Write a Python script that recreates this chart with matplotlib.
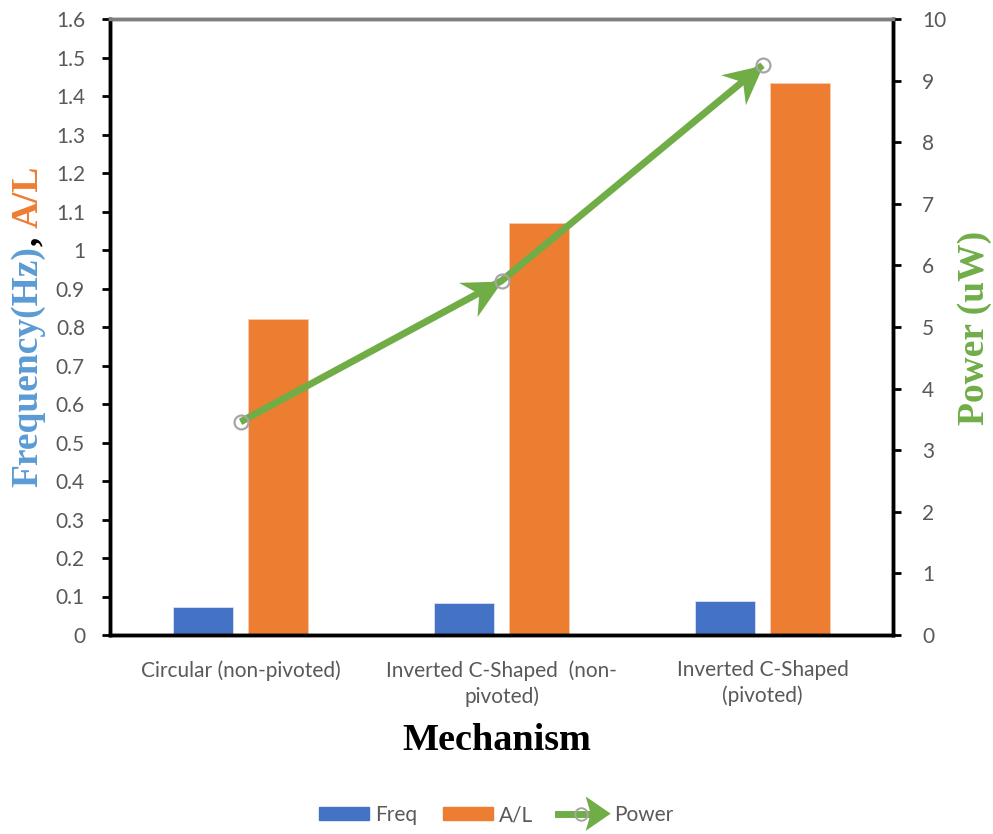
import numpy as np
import matplotlib
matplotlib.use("Agg")
import matplotlib.pyplot as plt
from matplotlib.markers import MarkerStyle
from matplotlib.path import Path
from matplotlib.transforms import Affine2D
from matplotlib.lines import Line2D
from matplotlib.patches import Patch, Polygon
from matplotlib.legend_handler import HandlerBase

# ---- data ----
categories = ["Circular (non-pivoted)",
              "Inverted C-Shaped  (non-\npivoted)",
              "Inverted C-Shaped\n(pivoted)"]
freq = [0.073, 0.083, 0.088]
a_over_l = [0.821, 1.07, 1.434]
power = [3.46, 5.75, 9.25]
left_ticks = [0, 0.1, 0.2, 0.3, 0.4, 0.5, 0.6, 0.7, 0.8, 0.9, 1.0,
              1.1, 1.2, 1.3, 1.4, 1.5, 1.6]
right_ticks = [0, 1, 2, 3, 4, 5, 6, 7, 8, 9, 10]

BLUE = "#4472C4"
ORANGE = "#ED7D31"
GREEN = "#70AD47"
LIGHTBLUE = "#5B9BD5"
TICKGRAY = "#595959"
MARKGRAY = "#A5A5A5"

SANS = ["Lato", "DejaVu Sans"]
SERIF = ["Liberation Serif", "DejaVu Serif"]
TICK_FS = 15

fig = plt.figure(figsize=(9.93, 8.34), dpi=100)
ax = fig.add_axes([110 / 993, 1 - 635 / 834, 783 / 993, 616 / 834])
ax2 = ax.twinx()

x = np.arange(len(categories))
bw = 0.23
off = 0.145
ax.bar(x - off, freq, bw, color=BLUE, edgecolor="#D9E2F3", linewidth=0.6, zorder=2)
ax.bar(x + off, a_over_l, bw, color=ORANGE, edgecolor="#F8CBAD", linewidth=0.6, zorder=2)

ax.set_xlim(-0.5, len(categories) - 0.5)
ax.set_ylim(0, 1.6)
ax2.set_ylim(0, 10)

ax.set_yticks(left_ticks)
ax.set_yticklabels([f"{v:g}" for v in left_ticks])
ax2.set_yticks(right_ticks)
ax2.set_yticklabels([str(v) for v in right_ticks])
ax.set_xticks(x)
ax.set_xticklabels(categories, fontsize=TICK_FS, color=TICKGRAY, family=SANS,
                   linespacing=1.35, va="top")
ax.tick_params(axis="x", length=0, pad=18)
ax.tick_params(axis="y", direction="out", length=6, width=2, color="black",
               labelsize=TICK_FS, labelcolor=TICKGRAY, pad=12)
ax2.tick_params(axis="y", direction="out", length=6, width=2, color="black",
                labelsize=TICK_FS, labelcolor=TICKGRAY, pad=15)
for lab in ax.get_yticklabels() + ax2.get_yticklabels():
    lab.set_family(SANS)

for a in (ax, ax2):
    for side in ("left", "right", "bottom", "top"):
        a.spines[side].set_linewidth(2.5)
        a.spines[side].set_color("black")
    a.spines["top"].set_color("#7F7F7F")

# power line with arrowheads at the end of each segment
ax2.plot(x, power, color=GREEN, lw=5, solid_capstyle="butt", zorder=3)

stealth = Path([(0, 0), (-1, 0.5), (-0.68, 0), (-1, -0.5), (0, 0)],
               [Path.MOVETO, Path.LINETO, Path.LINETO, Path.LINETO, Path.CLOSEPOLY])
disp = ax2.transData.transform(np.column_stack([x, power]))
for i in range(1, len(x)):
    dx, dy = disp[i] - disp[i - 1]
    ang = np.degrees(np.arctan2(dy, dx))
    ms = MarkerStyle(stealth, transform=Affine2D().rotate_deg(ang))
    ax2.plot([x[i]], [power[i]], marker=ms, markersize=56, color=GREEN,
             markeredgewidth=0, linestyle="none", zorder=4)
ax2.plot(x, power, linestyle="none", marker="o", markersize=10,
         markerfacecolor="none", markeredgecolor=MARKGRAY, markeredgewidth=1.6,
         zorder=5)

# axis titles
fig.text(0.5, 1 - 741 / 834, "Mechanism", ha="center", va="center",
         family=SERIF, fontweight="bold", fontsize=27.5)
fig.text(975 / 993, 1 - 328 / 834, "Power (uW)", rotation=90, ha="center",
         va="center", family=SERIF, fontweight="bold", fontsize=27, color=GREEN)

renderer = fig.canvas.get_renderer()
ylab_x = 28 / 993
y0 = 1 - 487 / 834
pieces = [("Frequency(Hz)", LIGHTBLUE, 0), (",", "black", 9), ("A/L", ORANGE, 0)]
cur = y0
fig_h = fig.get_figheight() * fig.dpi
for txt, col, gap in pieces:
    t = fig.text(ylab_x, cur, txt, rotation=90, rotation_mode="anchor",
                 ha="left", va="center", family=SERIF, fontweight="bold",
                 fontsize=27, color=col)
    bb = t.get_window_extent(renderer)
    cur += (bb.height + gap) / fig_h

# legend
class PowerHandler(HandlerBase):
    def create_artists(self, legend, orig_handle, xdescent, ydescent, width,
                       height, fontsize, trans):
        y = height / 2 - ydescent
        x0 = -xdescent
        line = Line2D([x0, x0 + width * 0.7], [y, y], color=GREEN, lw=5,
                      transform=trans)
        head = Polygon([[x0 + width * 0.55, y + height * 1.3],
                        [x0 + width * 1.05, y],
                        [x0 + width * 0.55, y - height * 1.3],
                        [x0 + width * 0.65, y]], closed=True,
                       facecolor=GREEN, edgecolor="none", transform=trans)
        mk = Line2D([x0 + width * 0.45], [y], marker="o", markersize=9,
                    markerfacecolor="none", markeredgecolor=MARKGRAY,
                    markeredgewidth=1.4, transform=trans)
        return [line, head, mk]

handles = [Patch(color=BLUE), Patch(color=ORANGE), Line2D([], [])]
leg = fig.legend(handles, ["Freq", "A/L", "Power"], loc="center",
                 bbox_to_anchor=(0.5, 1 - 815 / 834), ncol=3, frameon=False,
                 handlelength=2.4, handleheight=0.6, handletextpad=0.3,
                 columnspacing=1.2, prop={"family": SANS, "size": TICK_FS},
                 handler_map={Line2D: PowerHandler()})
for t in leg.get_texts():
    t.set_color(TICKGRAY)

fig.savefig("out.png", dpi=100)
